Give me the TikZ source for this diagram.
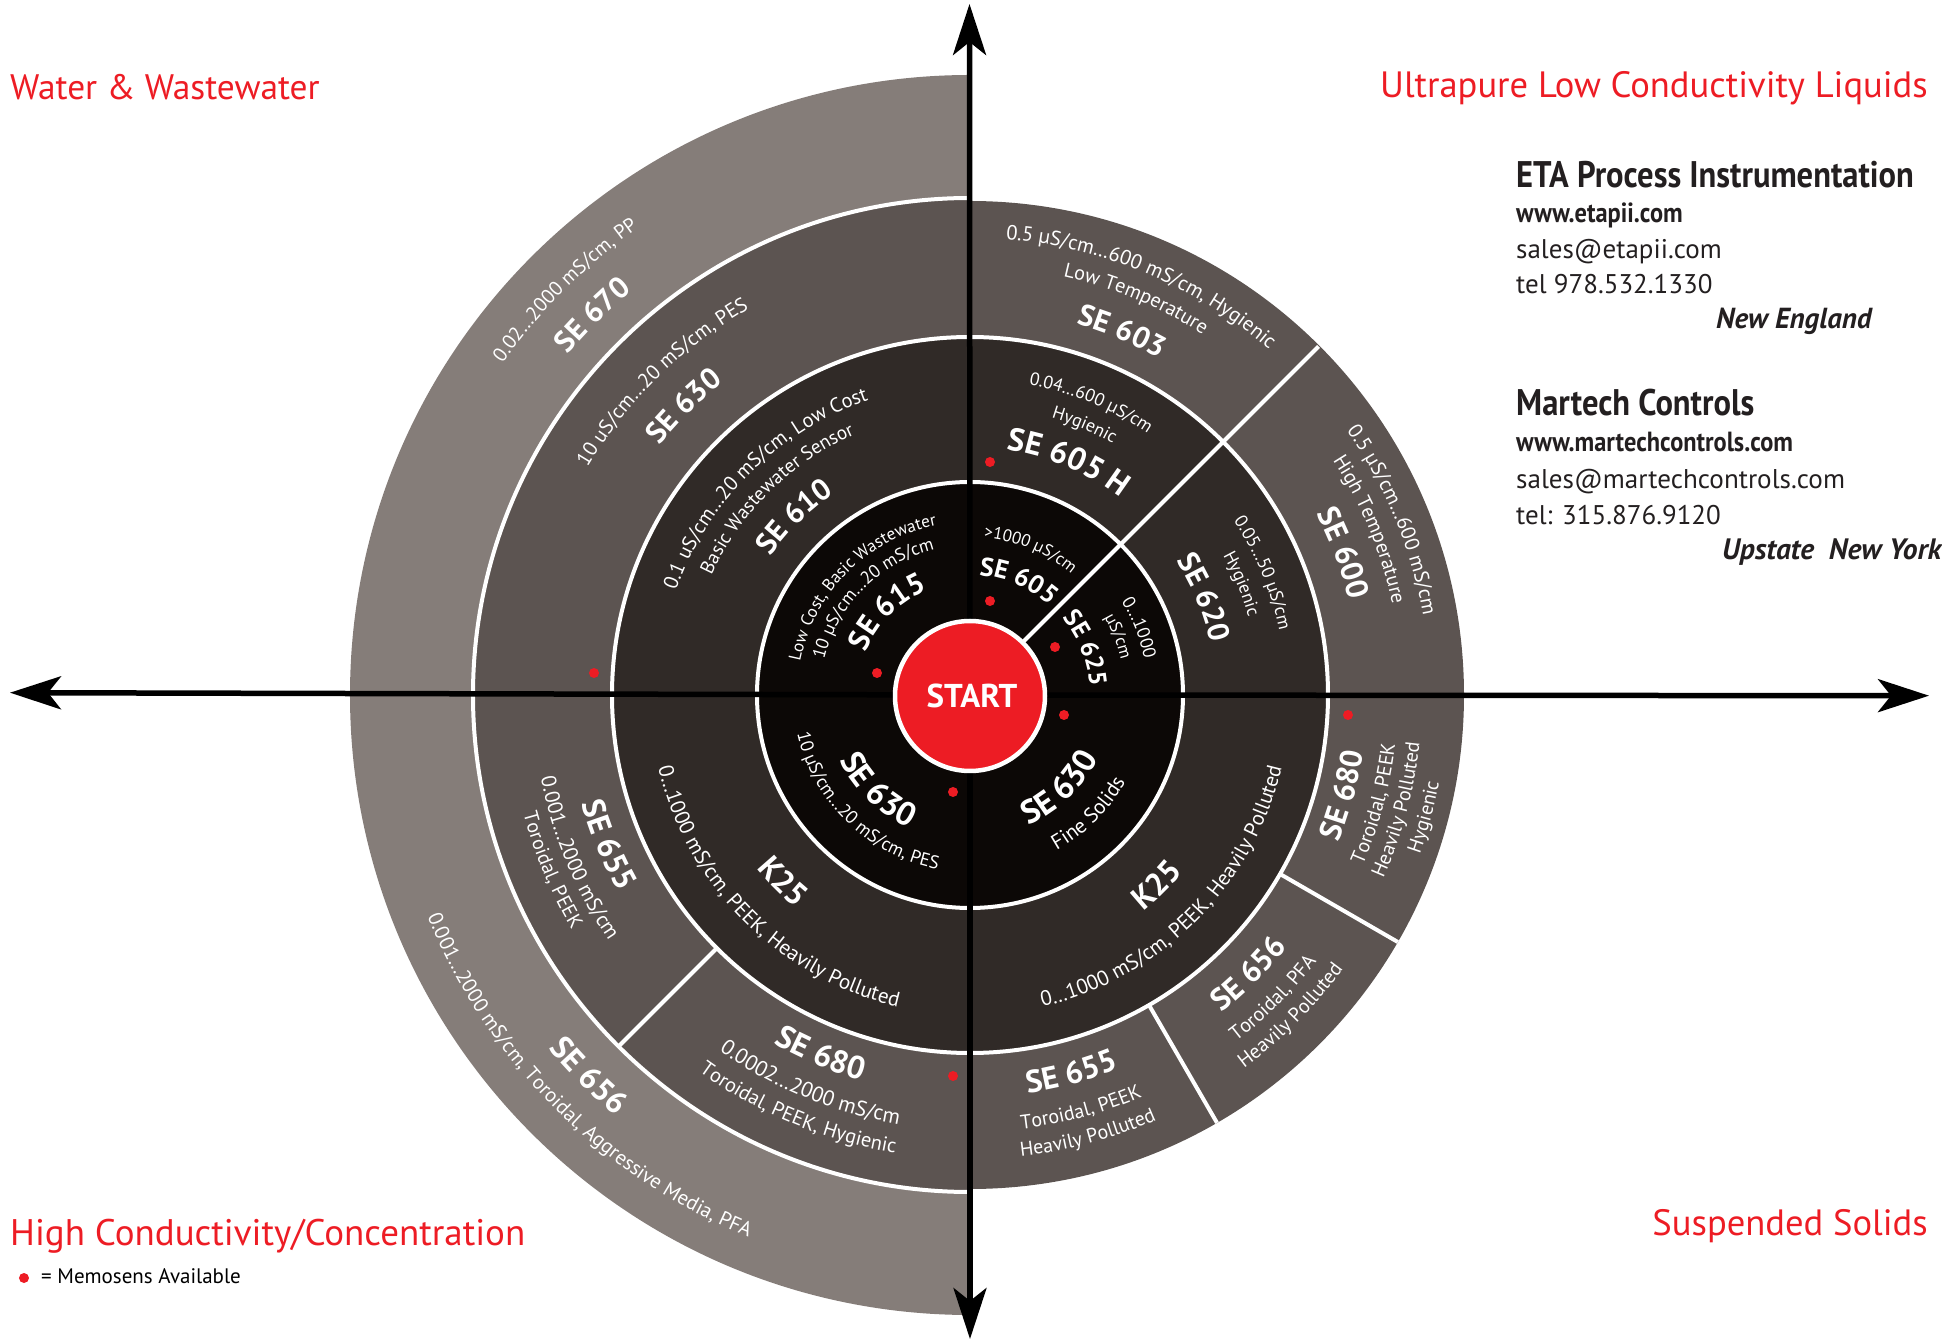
\documentclass[tikz,border=0pt]{standalone}
\usepackage{fontspec}
\usetikzlibrary{arrows.meta,decorations.text}
\setmainfont{PT Sans}
\newfontfamily\condf[FakeStretch=0.88]{PT Sans}
\definecolor{ringA}{HTML}{0C0806}
\definecolor{ringB}{HTML}{302A27}
\definecolor{ringC}{HTML}{5C5451}
\definecolor{ringD}{HTML}{857D79}
\definecolor{memored}{HTML}{ED1C24}
\definecolor{inkdark}{HTML}{231F20}
\newcommand{\rgf}[1]{\fontsize{#1}{#1}\selectfont}
\newcommand{\bdf}[1]{\fontsize{#1}{#1}\selectfont\bfseries}
\newcommand{\cwt}[4]{\path[decorate,decoration={text along path,text align=center,text={|#4\color{white}|#1}}] ({#3+80}:#2pt) arc[start angle={#3+80},end angle={#3-80},radius=#2pt];}
\newcommand{\ccwt}[4]{\path[decorate,decoration={text along path,text align=center,text={|#4\color{white}|#1}}] ({#3-80}:#2pt) arc[start angle={#3-80},end angle={#3+80},radius=#2pt];}
\tikzset{
  divider/.style={white,line width=4pt},
  ringline/.style={white,line width=4pt},
  axis/.style={black,line width=5.5pt,-{Stealth[length=51pt,width=33pt,inset=13pt]}},
  memo/.style={memored},
  quad/.style={inner sep=0pt,text=memored},
  info/.style={inner sep=0pt,text=inkdark,anchor=base west},
}
\begin{document}
\begin{tikzpicture}[x=1pt,y=1pt]
\useasboundingbox (-970,-645) rectangle (972,695);
% rings
\fill[ringD] (90:620pt) arc[start angle=90,end angle=270,radius=620pt] -- cycle;
\fill[ringC] (0,0) circle[radius=494pt];
\fill[ringC] (90:497pt) arc[start angle=90,end angle=270,radius=497pt] -- cycle;
\draw[ringline] (90:497pt) arc[start angle=90,end angle=270,radius=497pt];
\fill[ringB] (0,0) circle[radius=358pt];
\draw[ringline] (0,0) circle[radius=358pt];
\fill[ringA] (0,0) circle[radius=213pt];
\draw[ringline] (0,0) circle[radius=213pt];
% dividers
\draw[divider] (45:74pt) -- (45:493pt);
\draw[divider] (-30:358pt) -- (-30:494pt);
\draw[divider] (-60:358pt) -- (-60:494pt);
\draw[divider] (-135:358pt) -- (-135:497pt);
% axes
\coordinate (axL) at (-960,2.3);
\coordinate (axR) at (959,-0.7);
\coordinate (axT) at (-0.5,691);
\coordinate (axB) at (0,-644);
\coordinate (axO) at (0,0);
\draw[axis] (axO) -- (axL);
\draw[axis] (axO) -- (axR);
\draw[axis] (axO) -- (axT);
\draw[axis] (axO) -- (axB);
% start
\node[circle,fill=memored,draw=white,line width=4.5pt,minimum size=150pt,inner sep=0pt] (start) at (0,-1) {};
\node[inner sep=0pt,text=white,font=\bdf{33}] (startlabel) at (2,-1) {START};
% inner ring
\cwt{SE 615}{113}{135}{\bdf{30}}
\cwt{10 µS/cm…20 mS/cm}{150}{135}{\rgf{18}}
\cwt{Low Cost, Basic Wastewater}{173}{135}{\rgf{17.2}}
\cwt{>1000 µS/cm}{158}{67.5}{\rgf{17}}
\cwt{SE 605}{120}{67}{\bdf{26}}
\cwt{SE 625}{120}{22}{\bdf{25}}
\cwt{0…1000}{178}{21.7}{\rgf{18}}
\cwt{µS/cm}{155}{21.5}{\rgf{17}}
\ccwt{SE 630}{143}{-46}{\bdf{33}}
\ccwt{Fine Solids}{178}{-45}{\rgf{21}}
\ccwt{SE 630}{146}{226}{\bdf{33}}
\ccwt{10 µS/cm…20 mS/cm, PES}{177}{226}{\rgf{18.4}}
% second ring
\cwt{SE 605 H}{248}{67}{\bdf{32}}
\cwt{Hygienic}{289}{67}{\rgf{18}}
\cwt{0.04…600 µS/cm}{316}{67.5}{\rgf{18}}
\cwt{SE 620}{246}{22.6}{\bdf{30}}
\cwt{Hygienic}{289}{22.3}{\rgf{18}}
\cwt{0.05…50 µS/cm}{316}{22.6}{\rgf{18}}
\ccwt{K25}{277}{-45.5}{\bdf{32}}
\ccwt{0…1000 mS/cm, PEEK, Heavily Polluted}{320}{-45}{\rgf{21}}
\ccwt{K25}{275}{225}{\bdf{32}}
\ccwt{0…1000 mS/cm, PEEK, Heavily Polluted}{320}{225}{\rgf{21}}
\cwt{SE 610}{243}{134.6}{\bdf{30}}
\cwt{Basic Wastewater Sensor}{285}{134.5}{\rgf{19.3}}
\cwt{0.1 uS/cm…20 mS/cm, Low Cost}{312}{134.7}{\rgf{20.4}}
% third ring
\cwt{SE 630}{398}{134.7}{\bdf{30}}
\cwt{10 uS/cm…20 mS/cm, PES}{445}{134.5}{\rgf{20.4}}
\cwt{SE 603}{386}{67.3}{\bdf{30}}
\cwt{Low Temperature}{429}{67.3}{\rgf{20.2}}
\cwt{0.5 µS/cm…600 mS/cm, Hygienic}{457}{67.3}{\rgf{20.6}}
\cwt{SE 600}{391}{20.8}{\bdf{31}}
\cwt{High Temperature}{432}{22.5}{\rgf{20.2}}
\cwt{0.5 µS/cm…600 mS/cm}{460}{22.5}{\rgf{20.4}}
\ccwt{SE 680}{397}{-15}{\bdf{31}}
\ccwt{Toroidal, PEEK}{428}{-15}{\rgf{20}}
\ccwt{Heavily Polluted}{452}{-15}{\rgf{20}}
\ccwt{Hygienic}{477}{-15}{\rgf{20}}
\ccwt{SE 656}{405}{-45}{\bdf{31}}
\ccwt{Toroidal, PFA}{437}{-45}{\rgf{20}}
\ccwt{Heavily Polluted}{463}{-45}{\rgf{20}}
\ccwt{SE 655}{402}{-75}{\bdf{31.5}}
\ccwt{Toroidal, PEEK}{437}{-75}{\rgf{20}}
\ccwt{Heavily Polluted}{464}{-75}{\rgf{20}}
\ccwt{SE 655}{403}{202.5}{\bdf{32}}
\ccwt{0.001…2000 mS/cm}{437}{202.6}{\rgf{20.8}}
\ccwt{Toroidal, PEEK}{462}{202.7}{\rgf{20}}
\ccwt{SE 680}{400}{247.5}{\bdf{32}}
\ccwt{0.0002…2000 mS/cm}{435}{247.7}{\rgf{21.5}}
\ccwt{Toroidal, PEEK, Hygienic}{464}{247.5}{\rgf{20.4}}
% outer ring
\cwt{SE 670}{527}{134.8}{\bdf{30}}
\cwt{0.02…2000 mS/cm, PP}{573}{135}{\rgf{20}}
\ccwt{SE 656}{550}{225}{\bdf{32}}
\ccwt{0.001…2000 mS/cm, Toroidal, Aggressive Media, PFA}{586}{225}{\rgf{20.5}}
% memosens dots
\foreach \dx/\dy in {20/94,85/48,94/-20,-17/-97,-93/22,20/233,-376/22,378/-20,-17/-381}
  \fill[memo] (\dx,\dy) circle[radius=5pt];
% quadrant labels
\node[quad,anchor=base west,font=\rgf{35.4}] (qWW) at (-960,595) {Water \& Wastewater};
\node[quad,anchor=base east,font=\rgf{36.6}] (qUP) at (958,597) {Ultrapure Low Conductivity Liquids};
\node[quad,anchor=base west,font=\rgf{37}] (qHC) at (-960,-550) {High Conductivity/Concentration};
\node[quad,anchor=base east,font=\rgf{36.6}] (qSS) at (958,-540) {Suspended Solids};
% legend
\fill[memo] (-946,-583) circle[radius=5pt];
\node[inner sep=0pt,anchor=base west,text=black,font=\rgf{21}] (legend) at (-929,-588) {= Memosens Available};
% contacts
\node[info,font=\condf\bdf{37}] (eta) at (546,507) {ETA Process Instrumentation};
\node[info,font=\condf\bdf{27.7}] (etaw) at (546,472) {www.etapii.com};
\node[info,font=\rgf{27}] (etam) at (546,436) {sales@etapii.com};
\node[info,font=\rgf{27}] (etat) at (546,401) {tel 978.532.1330};
\node[info,font=\bdf{29}\itshape] (etar) at (746,366) {New England};
\node[info,font=\condf\bdf{37}] (mar) at (546,279) {Martech Controls};
\node[info,font=\condf\bdf{27.7}] (marw) at (546,243) {www.martechcontrols.com};
\node[info,font=\rgf{27.1}] (marm) at (546,206) {sales@martechcontrols.com};
\node[info,font=\rgf{27}] (mart) at (546,170) {tel: 315.876.9120};
\node[info,font=\bdf{29.5}\itshape] (marr) at (752,135) {Upstate\ \ New York};
\end{tikzpicture}
\end{document}
